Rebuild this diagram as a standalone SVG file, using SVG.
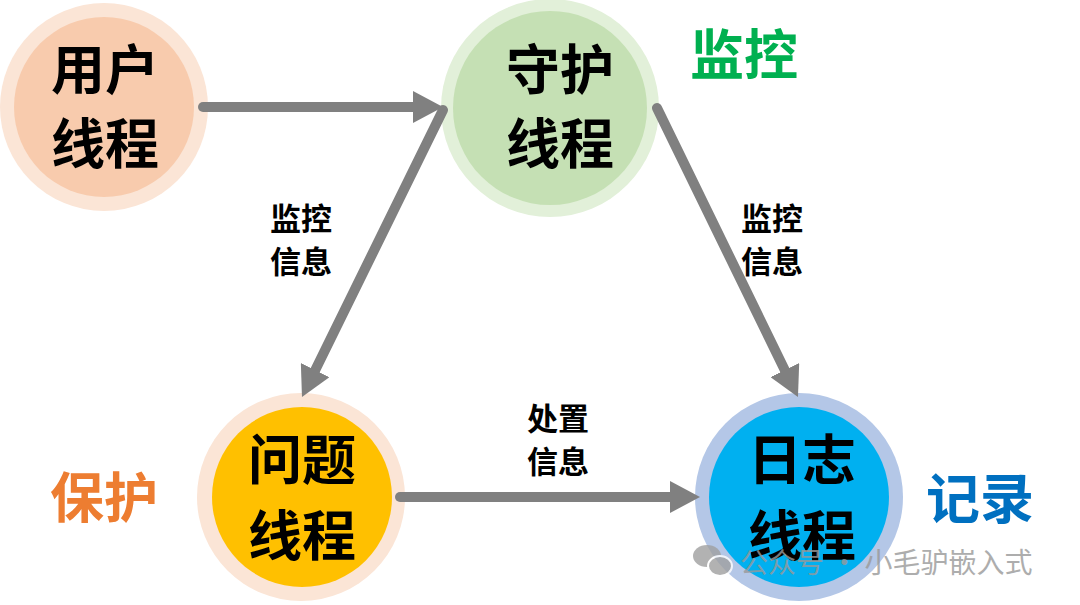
<svg xmlns="http://www.w3.org/2000/svg" width="1080" height="605" viewBox="0 0 1080 605">
<style>
.big{font-family:"Noto Sans CJK SC","Noto Sans",sans-serif;font-weight:700;font-size:54px;fill:#000;text-anchor:middle;dominant-baseline:central}
.lab{font-family:"Noto Sans CJK SC","Noto Sans",sans-serif;font-weight:700;font-size:31px;fill:#000;text-anchor:middle;dominant-baseline:central}
.tag{font-family:"Noto Sans CJK SC","Noto Sans",sans-serif;font-weight:700;font-size:54px;text-anchor:middle;dominant-baseline:central}
.conn{stroke:#808080;stroke-width:10;stroke-linecap:round;fill:none;marker-end:url(#ah)}
.wm{font-family:"Noto Sans CJK SC","Noto Sans",sans-serif;font-size:28px;fill:#999;dominant-baseline:central}
</style>
<defs>
<marker id="ah" markerUnits="userSpaceOnUse" viewBox="0 0 30 32" refX="10" refY="16" markerWidth="30" markerHeight="32" orient="auto">
<path d="M0,0 L30,16 L0,32 z" fill="#808080"/>
</marker>
</defs>
<rect width="1080" height="605" fill="#fff"/>
<g id="user-thread">
<circle cx="104" cy="107" r="104" fill="#FBE5D6"/>
<circle cx="104" cy="107" r="90" fill="#F8CBAD"/>
<text class="big" x="105" y="66">用户</text>
<text class="big" x="105" y="140">线程</text>
</g>
<g id="guard-thread">
<circle cx="550" cy="108" r="109" fill="#E2F0D9"/>
<circle cx="550" cy="108" r="97" fill="#C5E0B4"/>
<text class="big" x="560" y="66">守护</text>
<text class="big" x="560" y="140">线程</text>
</g>
<g id="problem-thread">
<circle cx="301" cy="497" r="104" fill="#FBE5D6"/>
<circle cx="302" cy="497" r="90" fill="#FFC000"/>
<text class="big" x="302" y="456">问题</text>
<text class="big" x="302" y="532">线程</text>
</g>
<g id="log-thread">
<circle cx="799" cy="497" r="104" fill="#B4C7E7"/>
<circle cx="799" cy="497" r="90" fill="#00B0F0"/>
<text class="big" x="802" y="456">日志</text>
<text class="big" x="802" y="532">线程</text>
</g>
<g id="tags">
<text class="tag" x="744" y="51" fill="#00B050">监控</text>
<text class="tag" x="104" y="494" fill="#ED7D31">保护</text>
<text class="tag" x="980" y="495" fill="#0070C0">记录</text>
</g>
<g id="connectors">
<line class="conn" x1="203" y1="107" x2="423" y2="107"/>
<line class="conn" x1="443" y1="110" x2="310.8" y2="379.1"/>
<line class="conn" x1="657" y1="108" x2="789.2" y2="379.1"/>
<line class="conn" x1="400" y1="497" x2="680" y2="497"/>
</g>
<g id="connector-labels">
<text class="lab" x="301" y="216">监控</text>
<text class="lab" x="301" y="259">信息</text>
<text class="lab" x="772" y="216">监控</text>
<text class="lab" x="772" y="259">信息</text>
<text class="lab" x="558" y="416">处置</text>
<text class="lab" x="558" y="459">信息</text>
</g>
<g id="watermark" opacity="0.8">
<ellipse cx="707" cy="556" rx="14" ry="11" fill="#a0a0a0"/>
<ellipse cx="720" cy="566" rx="12" ry="10" fill="#a0a0a0" stroke="#fff" stroke-width="2"/>
<text class="wm" x="740" y="561">公众号 · 小毛驴嵌入式</text>
</g>
</svg>
